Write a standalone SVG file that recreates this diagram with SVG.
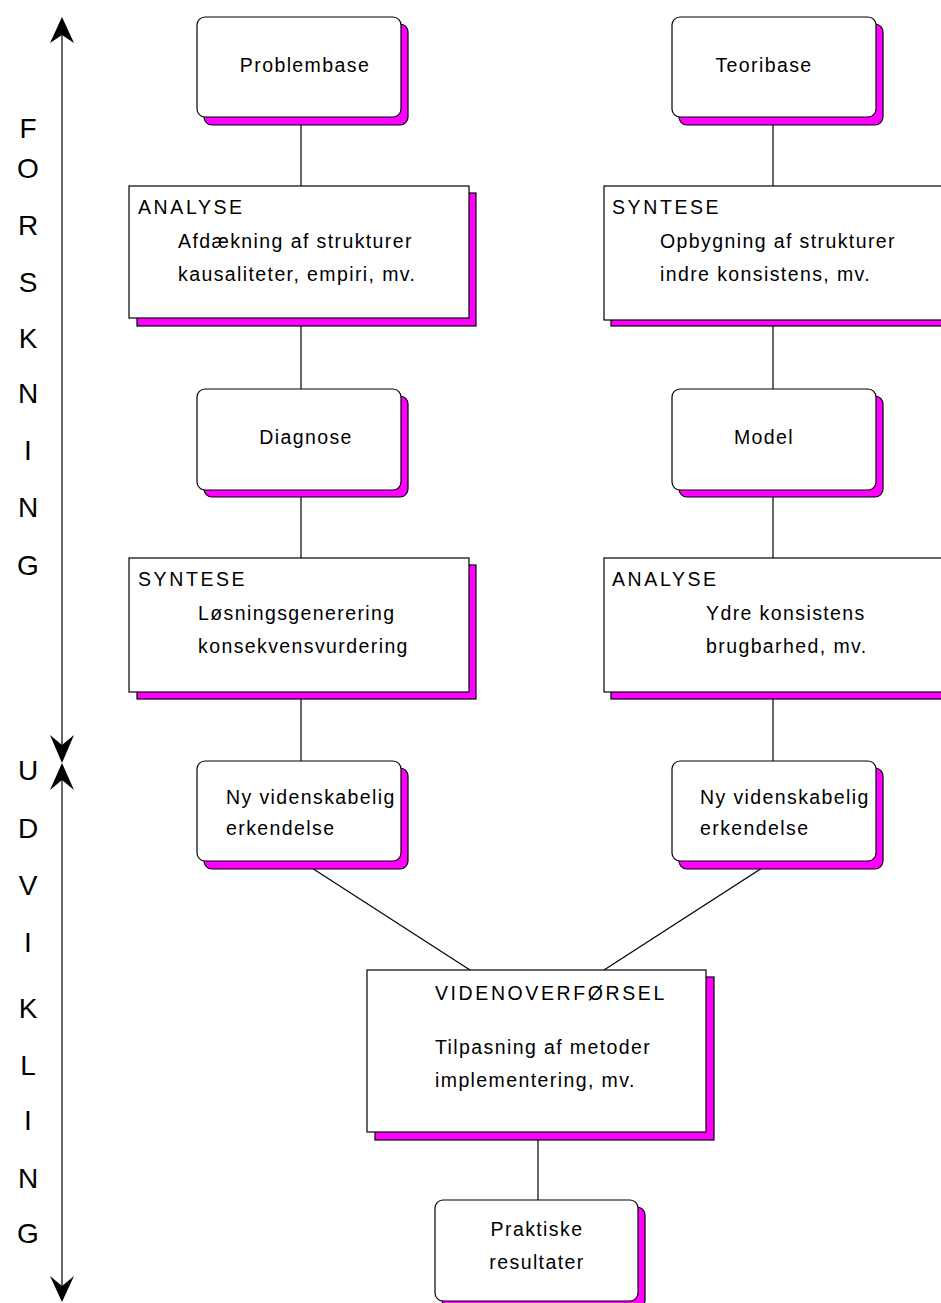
<svg xmlns="http://www.w3.org/2000/svg" width="941" height="1303" viewBox="0 0 941 1303">
<defs>
<style>
.sh{fill:#ff00ff;stroke:#000;stroke-width:1.2}
.bx{fill:#fff;stroke:#000;stroke-width:1.2}
.t{font-family:"Liberation Sans",Arial,sans-serif;font-size:19.5px;letter-spacing:1.4px;fill:#000}
.k{letter-spacing:2.6px}
.c{text-anchor:middle}
.big{font-family:"Liberation Sans",Arial,sans-serif;font-size:28px;fill:#000;text-anchor:middle}
.ln{stroke:#000;stroke-width:1.2;fill:none}
</style>
</defs>
<rect width="941" height="1303" fill="#fff"/>
<g id="axis">
<line class="ln" x1="62" y1="22" x2="62" y2="758"/>
<line class="ln" x1="62" y1="768" x2="62" y2="1298"/>
<path d="M62 17 L74 43 L62 35 L50 43 Z" fill="#000"/>
<path d="M62 763 L74 735 L62 745 L50 735 Z" fill="#000"/>
<path d="M62 763 L74 790 L62 780 L50 790 Z" fill="#000"/>
<path d="M62 1302 L74 1276 L62 1286 L50 1276 Z" fill="#000"/>
<text class="big" x="28" y="138">F</text>
<text class="big" x="28" y="178">O</text>
<text class="big" x="28" y="235">R</text>
<text class="big" x="28" y="292">S</text>
<text class="big" x="28" y="348">K</text>
<text class="big" x="28" y="403">N</text>
<text class="big" x="28" y="460">I</text>
<text class="big" x="28" y="517">N</text>
<text class="big" x="28" y="575">G</text>
<text class="big" x="28" y="780">U</text>
<text class="big" x="28" y="838">D</text>
<text class="big" x="28" y="895">V</text>
<text class="big" x="28" y="952">I</text>
<text class="big" x="28" y="1018">K</text>
<text class="big" x="28" y="1075">L</text>
<text class="big" x="28" y="1130">I</text>
<text class="big" x="28" y="1188">N</text>
<text class="big" x="28" y="1243">G</text>
</g>
<g id="connectors">
<line class="ln" x1="301" y1="117" x2="301" y2="186"/>
<line class="ln" x1="301" y1="318" x2="301" y2="389"/>
<line class="ln" x1="301" y1="490" x2="301" y2="558"/>
<line class="ln" x1="301" y1="692" x2="301" y2="761"/>
<line class="ln" x1="773" y1="117" x2="773" y2="186"/>
<line class="ln" x1="773" y1="320" x2="773" y2="389"/>
<line class="ln" x1="773" y1="490" x2="773" y2="558"/>
<line class="ln" x1="773" y1="692" x2="773" y2="761"/>
<line class="ln" x1="301" y1="861" x2="470" y2="970"/>
<line class="ln" x1="773" y1="861" x2="604" y2="970"/>
<line class="ln" x1="538" y1="1132" x2="538" y2="1200"/>
</g>
<g id="problembase">
<rect class="sh" x="204" y="24" width="204" height="101" rx="8"/>
<rect class="bx" x="197" y="17" width="204" height="100" rx="8"/>
<text class="t c" x="305" y="72">Problembase</text>
</g>
<g id="teoribase">
<rect class="sh" x="679" y="24" width="204" height="101" rx="8"/>
<rect class="bx" x="672" y="17" width="204" height="100" rx="8"/>
<text class="t c" x="764" y="72">Teoribase</text>
</g>
<g id="analyse-left">
<rect class="sh" x="137" y="193" width="339" height="133"/>
<rect class="bx" x="129" y="186" width="340" height="132"/>
<text class="t k" x="138" y="214">ANALYSE</text>
<text class="t" x="178" y="248">Afdækning af strukturer</text>
<text class="t" x="178" y="281">kausaliteter, empiri, mv.</text>
</g>
<g id="syntese-right">
<rect class="sh" x="611" y="193" width="345" height="133"/>
<rect class="bx" x="604" y="186" width="345" height="134"/>
<text class="t k" x="612" y="214">SYNTESE</text>
<text class="t" x="660" y="248">Opbygning af strukturer</text>
<text class="t" x="660" y="281">indre konsistens, mv.</text>
</g>
<g id="diagnose">
<rect class="sh" x="204" y="396" width="204" height="101" rx="8"/>
<rect class="bx" x="197" y="389" width="204" height="101" rx="8"/>
<text class="t c" x="306" y="444">Diagnose</text>
</g>
<g id="model">
<rect class="sh" x="679" y="396" width="204" height="101" rx="8"/>
<rect class="bx" x="672" y="389" width="204" height="101" rx="8"/>
<text class="t c" x="764" y="444">Model</text>
</g>
<g id="syntese-left">
<rect class="sh" x="137" y="565" width="339" height="134"/>
<rect class="bx" x="129" y="558" width="340" height="134"/>
<text class="t k" x="138" y="586">SYNTESE</text>
<text class="t" x="198" y="620">Løsningsgenerering</text>
<text class="t" x="198" y="653">konsekvensvurdering</text>
</g>
<g id="analyse-right">
<rect class="sh" x="611" y="565" width="345" height="134"/>
<rect class="bx" x="604" y="558" width="345" height="134"/>
<text class="t k" x="612" y="586">ANALYSE</text>
<text class="t" x="706" y="620">Ydre konsistens</text>
<text class="t" x="706" y="653">brugbarhed, mv.</text>
</g>
<g id="erkendelse-left">
<rect class="sh" x="204" y="768" width="204" height="101" rx="8"/>
<rect class="bx" x="197" y="761" width="204" height="100" rx="8"/>
<text class="t" x="226" y="804">Ny videnskabelig</text>
<text class="t" x="226" y="835">erkendelse</text>
</g>
<g id="erkendelse-right">
<rect class="sh" x="679" y="768" width="204" height="101" rx="8"/>
<rect class="bx" x="672" y="761" width="204" height="100" rx="8"/>
<text class="t" x="700" y="804">Ny videnskabelig</text>
<text class="t" x="700" y="835">erkendelse</text>
</g>
<g id="videnoverfoersel">
<rect class="sh" x="375" y="977" width="339" height="163"/>
<rect class="bx" x="367" y="970" width="339" height="162"/>
<text class="t k" x="435" y="1000">VIDENOVERFØRSEL</text>
<text class="t" x="435" y="1054">Tilpasning af metoder</text>
<text class="t" x="435" y="1087">implementering, mv.</text>
</g>
<g id="praktiske">
<rect class="sh" x="442" y="1207" width="203" height="101" rx="8"/>
<rect class="bx" x="435" y="1200" width="203" height="101" rx="8"/>
<text class="t c" x="537" y="1236">Praktiske</text>
<text class="t c" x="537" y="1269">resultater</text>
</g>
</svg>
